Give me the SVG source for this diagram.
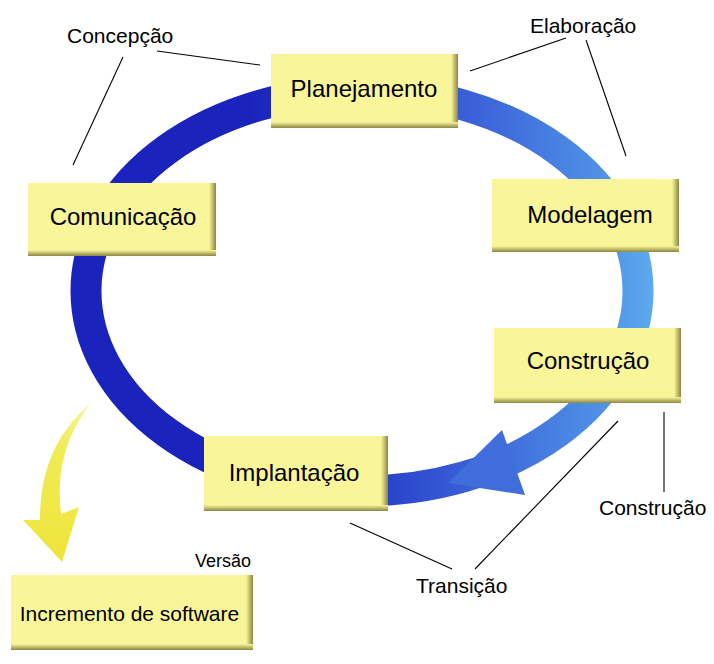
<svg xmlns="http://www.w3.org/2000/svg" width="714" height="664" viewBox="0 0 714 664">
<style>
.box{fill:#f9f69a}
.bt{font-family:"Liberation Sans",Arial,sans-serif;font-size:24px;fill:#000;text-anchor:middle}
.lb{font-family:"Liberation Sans",Arial,sans-serif;font-size:21px;fill:#000}
.ln{stroke:#000;stroke-width:1.1;fill:none}
</style>
<defs>
<linearGradient id="ringG" gradientUnits="userSpaceOnUse" x1="250" y1="0" x2="655" y2="0">
<stop offset="0" stop-color="#1a24bc"/>
<stop offset="0.37" stop-color="#2a48cc"/>
<stop offset="0.54" stop-color="#3a60d8"/>
<stop offset="0.86" stop-color="#4f90e5"/>
<stop offset="1" stop-color="#5eaaee"/>
</linearGradient>
<linearGradient id="yelG" x1="0" y1="0" x2="0" y2="1">
<stop offset="0" stop-color="#f7f39a"/>
<stop offset="0.3" stop-color="#f1eb55"/>
<stop offset="1" stop-color="#ede53a"/>
</linearGradient>
<linearGradient id="bevR" x1="0" y1="0" x2="1" y2="0">
<stop offset="0" stop-color="#f9f69a"/>
<stop offset="1" stop-color="#8c8640"/>
</linearGradient>
<linearGradient id="bevB" x1="0" y1="0" x2="0" y2="1">
<stop offset="0" stop-color="#f9f69a"/>
<stop offset="1" stop-color="#8c8640"/>
</linearGradient>
</defs>
<rect width="714" height="664" fill="#fff"/>

<g id="connectors">
<ellipse cx="362" cy="291" rx="276" ry="200" fill="none" stroke="url(#ringG)" stroke-width="31"/>
<polygon points="448,483 502,430 525,495" fill="#3f6edc"/>
<path d="M91,403 C62,428 40,462 40,520 L23,520 L62,562 L79,507 L61,514 C57,478 62,440 91,403 Z" fill="url(#yelG)"/>
<line class="ln" x1="157" y1="51" x2="260" y2="65"/>
<line class="ln" x1="123" y1="57" x2="73" y2="165"/>
<line class="ln" x1="566" y1="38" x2="470" y2="71"/>
<line class="ln" x1="586" y1="40" x2="626" y2="156"/>
<line class="ln" x1="664" y1="412" x2="664" y2="492"/>
<line class="ln" x1="350" y1="523" x2="452" y2="569"/>
<line class="ln" x1="475" y1="569" x2="618" y2="421"/>
</g>

<g id="n_plan">
<rect class="box" x="271" y="54" width="187" height="74"/>
<rect x="451" y="54" width="7" height="74" fill="url(#bevR)"/>
<rect x="271" y="122" width="187" height="6" fill="url(#bevB)"/>
<text class="bt" x="364" y="97">Planejamento</text>
</g>
<g id="n_mod">
<rect class="box" x="492" y="179" width="187" height="73"/>
<rect x="672" y="179" width="7" height="73" fill="url(#bevR)"/>
<rect x="492" y="246" width="187" height="6" fill="url(#bevB)"/>
<text class="bt" x="590" y="223">Modelagem</text>
</g>
<g id="n_com">
<rect class="box" x="28" y="183" width="188" height="73"/>
<rect x="209" y="183" width="7" height="73" fill="url(#bevR)"/>
<rect x="28" y="250" width="188" height="6" fill="url(#bevB)"/>
<text class="bt" x="123" y="225">Comunicação</text>
</g>
<g id="n_cons">
<rect class="box" x="494" y="328" width="187" height="75"/>
<rect x="674" y="328" width="7" height="75" fill="url(#bevR)"/>
<rect x="494" y="397" width="187" height="6" fill="url(#bevB)"/>
<text class="bt" x="588" y="369">Construção</text>
</g>
<g id="n_impl">
<rect class="box" x="204" y="436" width="184" height="75"/>
<rect x="381" y="436" width="7" height="75" fill="url(#bevR)"/>
<rect x="204" y="505" width="184" height="6" fill="url(#bevB)"/>
<text class="bt" x="294" y="481">Implantação</text>
</g>
<g id="n_inc">
<rect class="box" x="11" y="575" width="242" height="75"/>
<rect x="246" y="575" width="7" height="75" fill="url(#bevR)"/>
<rect x="11" y="644" width="242" height="6" fill="url(#bevB)"/>
<text class="bt" x="129.5" y="621" style="font-size:21px">Incremento de software</text>
</g>

<g id="labels">
<text class="lb" x="67" y="43">Concepção</text>
<text class="lb" x="530" y="33">Elaboração</text>
<text class="lb" x="599" y="515">Construção</text>
<text class="lb" x="416" y="593">Transição</text>
<text class="lb" x="195" y="567" style="font-size:18px">Versão</text>
</g>
</svg>
